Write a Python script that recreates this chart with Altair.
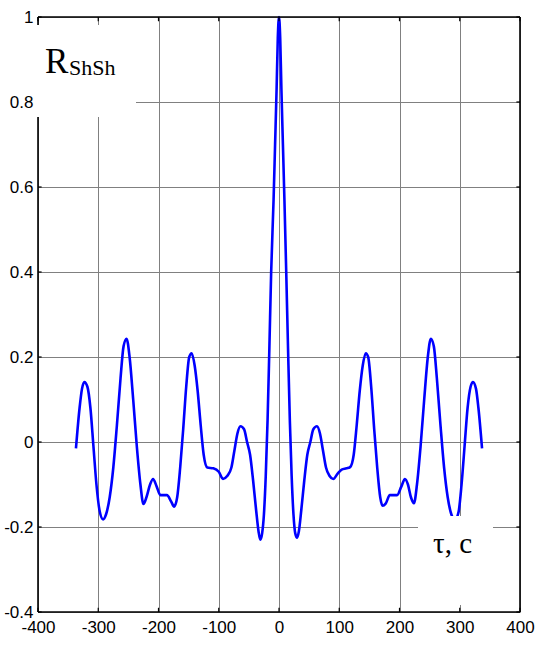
import altair as alt
import pandas as pd

# Curve readings (tau in seconds, autocorrelation R)
tau_left = [-337, -331, -327, -323, -318, -313, -308, -303, -298, -292, -287, -281, -275, -269,
            -263, -258, -253, -248, -242, -236, -230, -225, -220, -214, -209, -203, -197, -186,
            -179, -174, -169, -164, -159, -154, -149, -145, -140, -135, -130, -125, -119, -109,
            -100, -93, -86, -79, -74, -69, -64, -58, -53, -48, -43, -38, -34, -31, -28, -25,
            -22, -19, -16, -13, -9, -6.5, -4, -2, 0]
r_left = [-0.015, 0.08, 0.125, 0.141, 0.13, 0.08, -0.01, -0.1, -0.16, -0.182, -0.17, -0.13, -0.06, 0.04,
          0.15, 0.225, 0.243, 0.2, 0.1, -0.01, -0.1, -0.146, -0.13, -0.1, -0.087, -0.105, -0.125, -0.125,
          -0.14, -0.152, -0.13, -0.06, 0.03, 0.13, 0.2, 0.209, 0.18, 0.12, 0.04, -0.03, -0.06, -0.062,
          -0.07, -0.087, -0.08, -0.06, -0.02, 0.02, 0.037, 0.03, 0.0, -0.03, -0.09, -0.16, -0.21, -0.23, -0.215, -0.17,
          -0.08, 0.05, 0.22, 0.40, 0.57, 0.70, 0.83, 0.95, 1.0]
tau_right = [2, 4, 6.5, 9, 12, 15, 18, 21, 24, 27, 30, 33, 37, 42, 47, 52, 57, 63, 68, 73, 78, 84, 90,
             97, 104, 112, 118, 124, 129, 134, 139, 144, 148, 153, 158, 163, 168, 172, 177, 184, 196,
             203, 209, 214, 219, 224, 229, 235, 241, 247, 252, 257, 262, 268, 274, 280, 286, 292, 298,
             303, 308, 313, 318, 322, 327, 331, 337]
r_right = [0.95, 0.83, 0.70, 0.57, 0.40, 0.22, 0.05, -0.08, -0.17, -0.215, -0.225, -0.21, -0.16, -0.09, -0.03,
           0.0, 0.03, 0.037, 0.02, -0.02, -0.06, -0.08, -0.087, -0.075, -0.065, -0.062, -0.059, -0.03, 0.04,
           0.12, 0.18, 0.209, 0.2, 0.13, 0.03, -0.06, -0.13, -0.15, -0.145, -0.125, -0.125, -0.105, -0.087,
           -0.1, -0.13, -0.144, -0.1, -0.01, 0.1, 0.2, 0.243, 0.225, 0.15, 0.04, -0.06, -0.13, -0.17, -0.183,
           -0.165, -0.1, -0.01, 0.08, 0.13, 0.141, 0.125, 0.08, -0.015]

x_ticks = [-400, -300, -200, -100, 0, 100, 200, 300, 400]
y_ticks = [-0.4, -0.2, 0, 0.2, 0.4, 0.6, 0.8, 1]

curve = pd.DataFrame({"tau": tau_left + tau_right, "r": r_left + r_right})
xt = pd.DataFrame({"t": x_ticks})
yt = pd.DataFrame({"t": y_ticks})

W, H = 482, 595
LABEL_FONT = "Liberation Sans"
xscale = alt.Scale(domain=[-400, 400], nice=False, zero=False)
yscale = alt.Scale(domain=[-0.4, 1], nice=False, zero=False)
xaxis = alt.Axis(values=x_ticks, title=None, labelExpr="toString(datum.value)", labelPadding=7,
                 labelFont=LABEL_FONT, labelFontSize=17, labelColor="black", labelOverlap=False,
                 labelFlush=False, labelBound=False,
                 grid=True, gridColor="#808080", gridWidth=1, domain=False, ticks=False)
yaxis = alt.Axis(values=y_ticks, title=None,
                 labelExpr="toString(round(datum.value * 10) / 10)", labelPadding=5,
                 labelFont=LABEL_FONT, labelFontSize=17, labelColor="black", labelOverlap=False,
                 labelFlush=False, labelBound=False,
                 grid=True, gridColor="#808080", gridWidth=1, domain=False, ticks=False)

one = alt.Data(values=[{}])

line = alt.Chart(curve).mark_line(color="#0000ff", strokeWidth=2.6, interpolate="monotone").encode(
    x=alt.X("tau:Q", scale=xscale, axis=xaxis),
    y=alt.Y("r:Q", scale=yscale, axis=yaxis),
)

frame_style = dict(color="black", strokeWidth=1.6)
top = alt.Chart(one).mark_rule(**frame_style).encode(x=alt.datum(-400), x2=alt.datum(400), y=alt.datum(1))
bottom = alt.Chart(one).mark_rule(**frame_style).encode(x=alt.datum(-400), x2=alt.datum(400), y=alt.datum(-0.4))
left = alt.Chart(one).mark_rule(**frame_style).encode(y=alt.datum(-0.4), y2=alt.datum(1), x=alt.datum(-400))
right = alt.Chart(one).mark_rule(**frame_style).encode(y=alt.datum(-0.4), y2=alt.datum(1), x=alt.datum(400))

tick_style = dict(color="black", strokeWidth=1.2)
xt_bot = alt.Chart(xt).mark_rule(**tick_style).encode(
    x=alt.X("t:Q", scale=xscale, axis=xaxis), y=alt.datum(-0.4), y2=alt.datum(-0.39))
xt_top = alt.Chart(xt).mark_rule(**tick_style).encode(
    x=alt.X("t:Q", scale=xscale, axis=xaxis), y=alt.datum(1), y2=alt.datum(0.99))
yt_left = alt.Chart(yt).mark_rule(**tick_style).encode(
    y=alt.Y("t:Q", scale=yscale, axis=yaxis), x=alt.datum(-400), x2=alt.datum(-394))
yt_right = alt.Chart(yt).mark_rule(**tick_style).encode(
    y=alt.Y("t:Q", scale=yscale, axis=yaxis), x=alt.datum(400), x2=alt.datum(394))

box_r = alt.Chart(one).mark_rect(color="white").encode(
    x=alt.value(-4), x2=alt.value(98), y=alt.value(8), y2=alt.value(100))
box_t = alt.Chart(one).mark_rect(color="white").encode(
    x=alt.value(380), x2=alt.value(455), y=alt.value(499), y2=alt.value(588))

lab_R = alt.Chart(one).mark_text(align="left", baseline="alphabetic", font="Liberation Serif",
                                 fontSize=35, color="black").encode(
    x=alt.value(7), y=alt.value(56), text=alt.value("R"))
lab_sub = alt.Chart(one).mark_text(align="left", baseline="alphabetic", font="Liberation Serif",
                                   fontSize=22, color="black").encode(
    x=alt.value(31), y=alt.value(58), text=alt.value("ShSh"))
lab_tau = alt.Chart(one).mark_text(align="left", baseline="alphabetic", font="Liberation Serif",
                                   fontSize=29, color="black").encode(
    x=alt.value(395), y=alt.value(536), text=alt.value("τ, c"))

chart = alt.layer(
    line, top, bottom, left, right, xt_bot, xt_top, yt_left, yt_right,
    box_r, box_t, lab_R, lab_sub, lab_tau,
).properties(
    width=W, height=H,
    padding={"left": 38, "top": 17, "right": 17, "bottom": 36},
    autosize=alt.AutoSizeParams(type="none"),
    background="white",
).configure_view(
    stroke=None,
)

chart.save("out.html", embed_options={"renderer": "svg", "actions": False})
